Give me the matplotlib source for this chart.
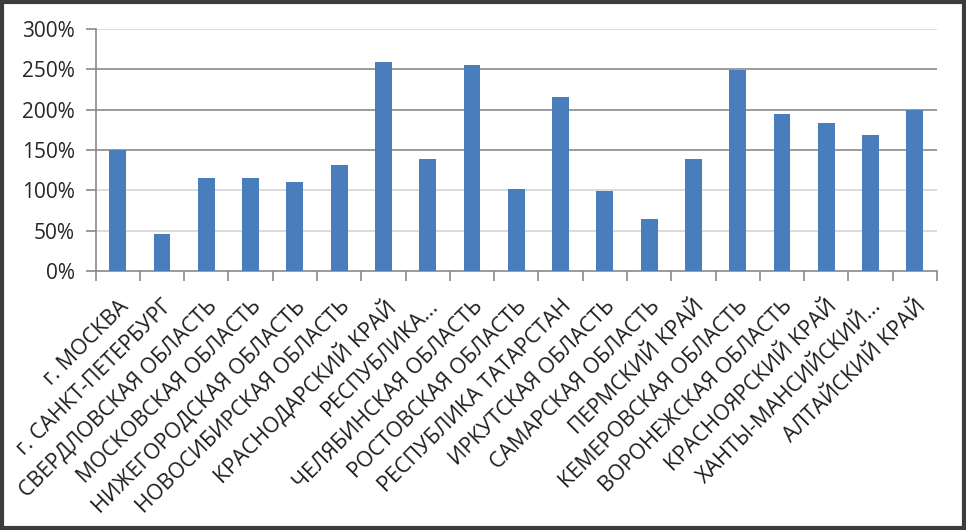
import matplotlib
matplotlib.use("Agg")
import matplotlib.pyplot as plt
import numpy as np
from matplotlib.patches import Rectangle

# regions and their values (percent)
regions = [
    "г. МОСКВА",
    "г. САНКТ-ПЕТЕРБУРГ",
    "СВЕРДЛОВСКАЯ ОБЛАСТЬ",
    "МОСКОВСКАЯ ОБЛАСТЬ",
    "НИЖЕГОРОДСКАЯ ОБЛАСТЬ",
    "НОВОСИБИРСКАЯ ОБЛАСТЬ",
    "КРАСНОДАРСКИЙ КРАЙ",
    "РЕСПУБЛИКА...",
    "ЧЕЛЯБИНСКАЯ ОБЛАСТЬ",
    "РОСТОВСКАЯ ОБЛАСТЬ",
    "РЕСПУБЛИКА ТАТАРСТАН",
    "ИРКУТСКАЯ ОБЛАСТЬ",
    "САМАРСКАЯ ОБЛАСТЬ",
    "ПЕРМСКИЙ КРАЙ",
    "КЕМЕРОВСКАЯ ОБЛАСТЬ",
    "ВОРОНЕЖСКАЯ ОБЛАСТЬ",
    "КРАСНОЯРСКИЙ КРАЙ",
    "ХАНТЫ-МАНСИЙСКИЙ...",
    "АЛТАЙСКИЙ КРАЙ",
]
values = [150, 46, 115, 115, 110, 131, 259, 139, 256, 102,
          216, 99, 64, 139, 249, 195, 184, 169, 200]
yticks = [0, 50, 100, 150, 200, 250, 300]

plt.rcParams["font.family"] = ["Open Sans", "DejaVu Sans"]

fig = plt.figure(figsize=(9.66, 5.30), dpi=100)
ax = fig.add_axes([0.099, 0.489, 0.871, 0.456])

x = np.arange(len(regions))
ax.bar(x, values, width=0.38, color="#4a7dbb", zorder=3)

ax.set_xlim(-0.5, len(regions) - 0.5)
ax.set_ylim(0, 300)

# gridlines: the middle ones look darker in the reference
for t in yticks[1:]:
    c = "#8a8a8a" if t in (150, 200, 250) else "#d4d4d4"
    ax.axhline(t, color=c, lw=1.2, zorder=1)

ax.set_yticks(yticks)
ax.set_yticklabels([f"{t}%" for t in yticks], fontsize=15, color="#262626")
ax.tick_params(axis="y", length=7, color="#8a8a8a", width=1.2, pad=8)

ax.set_xticks(x)
ax.set_xticklabels(regions, rotation=45, ha="right", va="top",
                   rotation_mode="anchor", fontsize=15.5, color="#1e1e1e")
ax.tick_params(axis="x", which="major", length=0, pad=18)
ax.set_xticks(np.arange(len(regions) + 1) - 0.5, minor=True)
ax.tick_params(axis="x", which="minor", length=7, color="#8a8a8a", width=1.2)

for s in ["top", "right"]:
    ax.spines[s].set_visible(False)
for s in ["left", "bottom"]:
    ax.spines[s].set_color("#8a8a8a")
    ax.spines[s].set_linewidth(1.2)

# dark frame round the picture
fig.patches.append(Rectangle((0.002, 0.003), 0.996, 0.994, transform=fig.transFigure,
                             fill=False, edgecolor="#3c3c3c", lw=3))

fig.savefig("out.png", dpi=100)
